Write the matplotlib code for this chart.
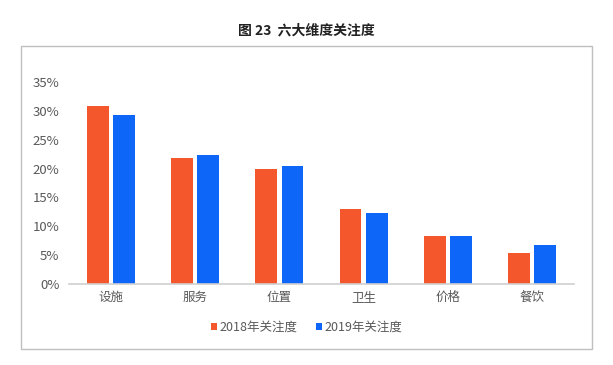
import matplotlib.pyplot as plt
import numpy as np
from matplotlib.patches import Rectangle

plt.rcParams['font.family'] = ['Noto Sans CJK SC', 'DejaVu Sans']

categories = ['设施', '服务', '位置', '卫生', '价格', '餐饮']
series_2018 = [30.9, 21.8, 20.0, 13.0, 8.4, 5.3]
series_2019 = [29.3, 22.3, 20.5, 12.3, 8.4, 6.7]
labels = ['2018年关注度', '2019年关注度']
yticks = [0, 5, 10, 15, 20, 25, 30, 35]

orange = '#F4572C'
blue = '#0D66F7'
gray = '#595959'

fig = plt.figure(figsize=(6.13, 3.65), dpi=100)

# outer frame around the chart
fig.patches.append(Rectangle((21 / 613, 1 - 349 / 365), 571 / 613, 303 / 365,
                             transform=fig.transFigure, fill=False,
                             edgecolor='#BFBFBF', linewidth=1.0))

ax = fig.add_axes([69 / 613, 1 - 284 / 365, 505 / 613, 202 / 365])

x = np.arange(len(categories))
w = 0.26
ax.bar(x - 0.155, series_2018, w, color=orange, label=labels[0])
ax.bar(x + 0.155, series_2019, w, color=blue, label=labels[1])

ax.set_xlim(-0.5, len(categories) - 0.5)
ax.set_ylim(0, 35)
ax.set_yticks(yticks)
ax.set_yticklabels([f'{t}%' for t in yticks], fontsize=9.5)
ax.set_xticks(x)
ax.set_xticklabels(categories, fontsize=9)
ax.tick_params(axis='both', length=0, colors=gray)
ax.tick_params(axis='y', pad=7)
ax.tick_params(axis='x', pad=5)
for s in ['top', 'right', 'left']:
    ax.spines[s].set_visible(False)
ax.spines['bottom'].set_color('#D0D0D0')
ax.spines['bottom'].set_linewidth(1.2)

fig.text(0.5, 1 - 30 / 365, '图 23  六大维度关注度', ha='center', va='center',
         fontsize=10, fontweight='bold', color='#222222')

leg = fig.legend(loc='center', bbox_to_anchor=(0.5, 1 - 327 / 365), ncol=2,
                 frameon=False, fontsize=9, handlelength=0.5, handleheight=0.5,
                 handletextpad=0.15, columnspacing=1.5)
for t in leg.get_texts():
    t.set_color(gray)

fig.savefig('out.png', dpi=100)
